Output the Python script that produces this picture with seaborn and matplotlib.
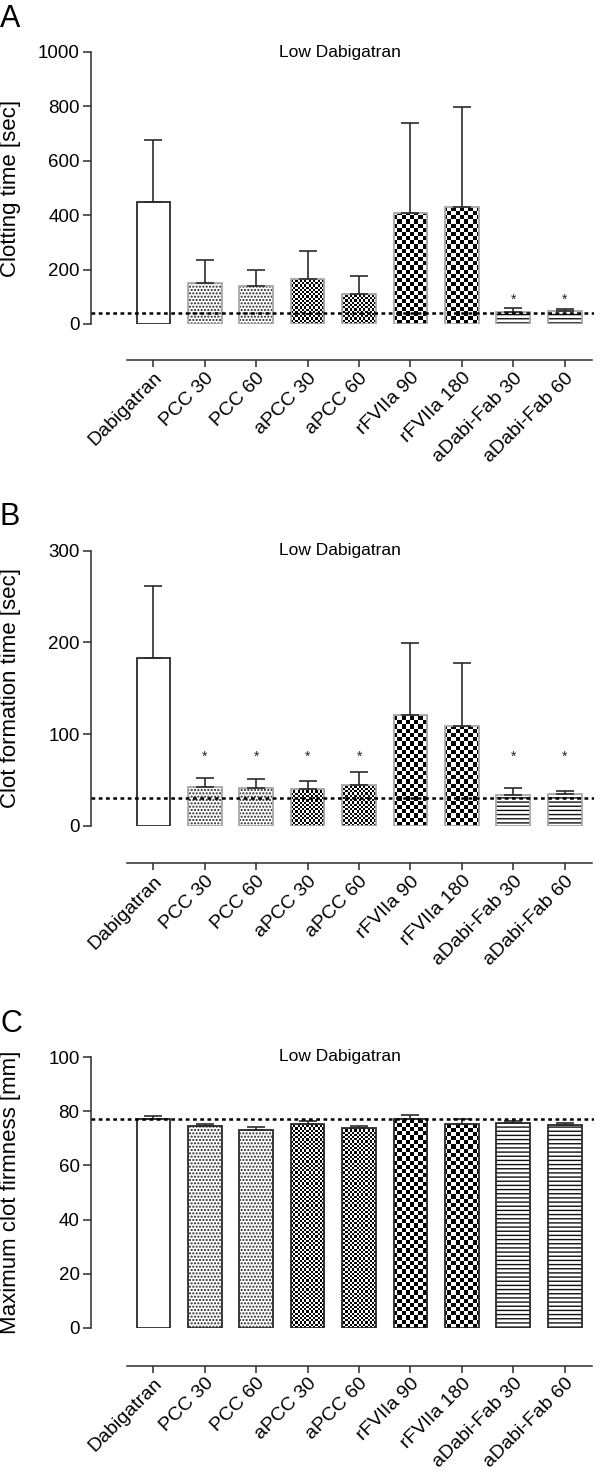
import numpy as np
import pandas as pd
import matplotlib
matplotlib.use("Agg")
import matplotlib.pyplot as plt
import matplotlib.patches as mpatches
import seaborn as sns

# ==========================================
# DATA
# ==========================================
groups = ["Dabigatran", "PCC 30", "PCC 60", "aPCC 30", "aPCC 60",
          "rFVIIa 90", "rFVIIa 180", "aDabi-Fab 30", "aDabi-Fab 60"]

# A: clotting time [sec]
ct_mean = [450, 150, 140, 165, 112, 408, 430, 45, 48]
ct_upper = [676, 235, 198, 270, 175, 738, 797, 57, 55]
ct_baseline = 40
ct_star = [None, None, None, None, None, None, None, 88, 88]
ct_ticks = [0, 200, 400, 600, 800, 1000]

# B: clot formation time [sec]
cft_mean = [183, 42, 41, 40, 44, 121, 109, 33, 35]
cft_upper = [262, 52, 51, 49, 59, 199, 177, 41, 38]
cft_baseline = 30
cft_star = [None, 75, 75, 75, 75, None, None, 75, 75]
cft_ticks = [0, 100, 200, 300]

# C: maximum clot firmness [mm]
mcf_mean = [77.0, 74.5, 73.1, 75.2, 73.7, 77.2, 75.2, 75.5, 74.8]
mcf_upper = [78.3, 75.3, 74.2, 76.3, 74.6, 78.5, 77.0, 76.3, 75.5]
mcf_baseline = 77
mcf_star = [None] * 9
mcf_ticks = [0, 20, 40, 60, 80, 100]

# fill style per group
fills = ["open", "dots", "dots", "fine", "fine", "check", "check", "lines", "lines"]

sns.set_theme(style="ticks")
plt.rcParams["font.family"] = ["Liberation Sans", "DejaVu Sans"]
plt.rcParams["hatch.linewidth"] = 1.0

W, H = 600, 1474
fig = plt.figure(figsize=(W / 100, H / 100), dpi=100)

DARK = "#2b2b2b"


def checker(ax, cell_px):
    bb = ax.get_position()
    nx = int(round(bb.width * W / cell_px))
    ny = int(round(bb.height * H / cell_px))
    return np.add.outer(np.arange(ny), np.arange(nx)) % 2


def draw_panel(ax, letter, mean, upper, baseline, star, ticks, ylabel,
               edge_light, outward, letter_y):
    df = pd.DataFrame({"group": groups, "value": mean})
    sns.barplot(data=df, x="group", y="value", ax=ax, color="white",
                width=0.655, errorbar=None, linewidth=0, edgecolor="none",
                saturation=1)

    outline_col = "#a8a8a8" if edge_light else DARK
    for p, f in zip(list(ax.patches), fills):
        p.set_facecolor("white")
        if f == "dots":
            p.set_hatch(".....")
            p.set_edgecolor("#222222")
        elif f == "lines":
            p.set_hatch("----")
            p.set_edgecolor("#111111")
        elif f in ("fine", "check"):
            img = checker(ax, 2.2 if f == "fine" else 4.2)
            im = ax.imshow(img, cmap="binary", extent=[0, 1, 0, 1],
                           transform=ax.transAxes, aspect="auto",
                           interpolation="nearest", zorder=1.5)
            im.set_clip_path(p)
        col = DARK if f == "open" else outline_col
        ax.add_patch(mpatches.Rectangle(p.get_xy(), p.get_width(), p.get_height(),
                                        fill=False, edgecolor=col, lw=1.3, zorder=2))

    x = np.arange(len(groups))
    lower = np.zeros(len(groups))
    up = np.array(upper) - np.array(mean)
    ax.errorbar(x, mean, yerr=[lower, up], fmt="none", ecolor=DARK,
                elinewidth=1.2, capsize=6.2, capthick=1.2, zorder=2.5)

    for i, s in enumerate(star):
        if s is not None:
            ax.text(i, s, "*", ha="center", va="center", fontsize=10, color="#222222")

    ax.axhline(baseline, color="black", lw=1.8, ls=(0, (1.5, 1.4)), zorder=4)

    ax.set_xlim(-1.22, 8.57)
    ax.set_ylim(ticks[0], ticks[-1])
    ax.set_yticks(ticks)
    ax.set_xlabel("")
    ax.set_ylabel(ylabel, fontsize=16, color="black")
    ax.yaxis.set_label_coords(-0.1385, 0.5)

    for s in ["top", "right"]:
        ax.spines[s].set_visible(False)
    for s in ["left", "bottom"]:
        ax.spines[s].set_color(DARK)
        ax.spines[s].set_linewidth(1.1)
    ax.spines["bottom"].set_position(("outward", outward))
    ax.spines["bottom"].set_bounds(-0.51, 8.54)

    ax.tick_params(axis="y", length=6, width=1.1, color=DARK, pad=2,
                   labelsize=13.5, labelcolor="black")
    ax.tick_params(axis="x", length=4.8, width=1.1, color=DARK, pad=2,
                   labelsize=14, labelcolor="black")
    plt.setp(ax.get_xticklabels(), rotation=45, ha="right", rotation_mode="anchor")

    ax.text(0.495, 1.0, "Low Dabigatran", transform=ax.transAxes,
            ha="center", va="center", fontsize=12.5, color="black")
    fig.text(0.0, 1 - letter_y / H, letter, ha="left", va="top",
             fontsize=22, color="black")


left = 90.7 / W
width = (594 - 90.7) / W

ax_a = fig.add_axes([left, 1 - 324 / H, width, 272 / H])
draw_panel(ax_a, "A", ct_mean, ct_upper, ct_baseline, ct_star, ct_ticks,
           "Clotting time [sec]", True, 25.9, 4)

ax_b = fig.add_axes([left, 1 - 825.7 / H, width, 275 / H])
draw_panel(ax_b, "B", cft_mean, cft_upper, cft_baseline, cft_star, cft_ticks,
           "Clot formation time [sec]", True, 27.0, 502)

ax_c = fig.add_axes([left, 1 - 1328 / H, width, 271 / H])
draw_panel(ax_c, "C", mcf_mean, mcf_upper, mcf_baseline, mcf_star, mcf_ticks,
           "Maximum clot firmness [mm]", False, 27.1, 1009)

fig.savefig("out.png", dpi=100, facecolor="white")
